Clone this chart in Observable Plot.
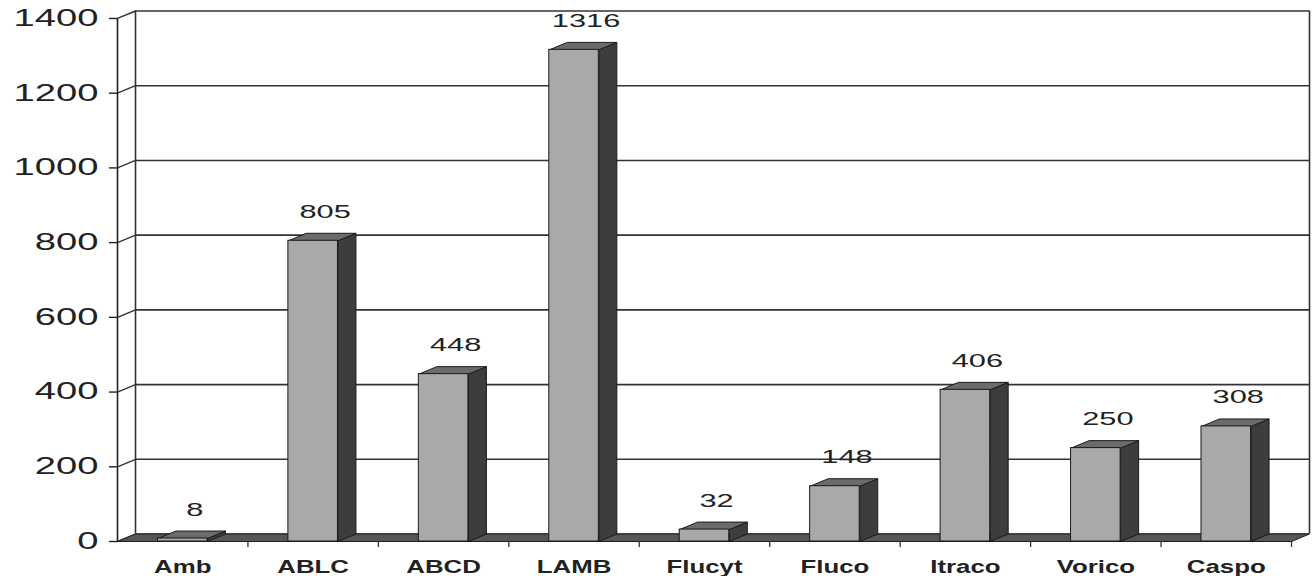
<!DOCTYPE html>
<html>
<head>
<meta charset="utf-8">
<script src="https://cdn.jsdelivr.net/npm/d3@7"></script>
<script src="https://cdn.jsdelivr.net/npm/@observablehq/plot@0.6"></script>
<style>
  html, body { margin: 0; padding: 0; background: #fff; }
  #chart svg { display: block; }
</style>
</head>
<body>
<div id="chart"></div>
<script>
// Antifungal agents and their counts
const categories = ["Amb", "ABLC", "ABCD", "LAMB", "Flucyt", "Fluco", "Itraco", "Vorico", "Caspo"];
const values = [8, 805, 448, 1316, 32, 148, 406, 250, 308];
const yTicks = [0, 200, 400, 600, 800, 1000, 1200, 1400];

// Pseudo-3D depth, expressed in data units of each axis
const DX = 0.138;   // horizontal depth (category units)
const DY = 20;      // vertical depth (value units)
const HALF = 0.19;  // half width of a column's front face
const X0 = -0.5, X1 = categories.length - 0.5;

// Closed polygon rows for Plot.line
function poly(id, pts) {
  return pts.concat([pts[0]]).map(([x, y]) => ({id, x, y}));
}

const sides = [], tops = [], fronts = [];
values.forEach((v, i) => {
  const l = i - HALF, r = i + HALF;
  sides.push(...poly("s" + i, [[r, 0], [r + DX, DY], [r + DX, v + DY], [r, v]]));
  tops.push(...poly("t" + i, [[l, v], [r, v], [r + DX, v + DY], [l + DX, v + DY]]));
  fronts.push({x1: l, x2: r, y1: 0, y2: v});
});
const floor = poly("floor", [[X0, 0], [X1, 0], [X1 + DX, DY], [X0 + DX, DY]]);
const boundaries = d3.range(1, categories.length + 1).map(k => X0 + k);

const ink = "#222";

const chart = Plot.plot({
  width: 1316,
  height: 576,
  marginLeft: 117,
  marginRight: 7,
  marginTop: 10.5,
  marginBottom: 35,
  x: {domain: [X0, X1 + DX], axis: null},
  y: {domain: [0, 1400 + DY], axis: null},
  style: {background: "white", fontFamily: "'Liberation Sans', Arial, sans-serif", color: ink},
  marks: [
    // back wall gridlines
    Plot.ruleY(yTicks, {y: d => d + DY, x1: X0 + DX, x2: X1 + DX, stroke: "#333", strokeWidth: 1.6}),
    // side wall connectors from the front axis to the back wall
    Plot.link(yTicks, {x1: X0, y1: d => d, x2: X0 + DX, y2: d => d + DY, stroke: "#333", strokeWidth: 1.4}),
    // back wall edges
    Plot.ruleX([X0 + DX, X1 + DX], {x: d => d, y1: DY, y2: 1400 + DY, stroke: "#333", strokeWidth: 1.6}),
    // floor
    Plot.line(floor, {x: "x", y: "y", z: "id", fill: "#575757", stroke: "#222", strokeWidth: 1}),
    // floor ticks between categories
    Plot.ruleX(boundaries, {x: d => d, y1: 0, y2: -16, stroke: "#333", strokeWidth: 1.3}),
    // front value axis
    Plot.ruleX([X0], {x: d => d, y1: 0, y2: 1400, stroke: "#222", strokeWidth: 1.6}),
    Plot.link(yTicks, {x1: X0 - 0.065, x2: X0, y1: d => d, y2: d => d, stroke: "#222", strokeWidth: 1.4}),
    // tick labels
    Plot.text(yTicks, {
      x: () => X0, y: d => d, text: d => String(d),
      textAnchor: "end", lineAnchor: "middle", dx: -19, fontSize: 23, fill: ink
    }),
    // columns
    Plot.line(sides, {x: "x", y: "y", z: "id", fill: "#3d3d3d", stroke: "#1a1a1a", strokeWidth: 1}),
    Plot.line(tops, {x: "x", y: "y", z: "id", fill: "#6b6b6b", stroke: "#1a1a1a", strokeWidth: 1}),
    Plot.rect(fronts, {x1: "x1", x2: "x2", y1: "y1", y2: "y2", fill: "#a9a9a9", stroke: "#1a1a1a", strokeWidth: 1}),
    // value labels
    Plot.text(values, {
      x: (d, i) => i + DX / 2, y: d => d, text: d => String(d),
      textAnchor: "middle", lineAnchor: "bottom", dx: 3, dy: -23, fontSize: 19, fill: ink
    }),
    // category labels
    Plot.text(categories, {
      x: (d, i) => i, y: () => 0, text: d => d,
      textAnchor: "middle", lineAnchor: "bottom", dy: 31, fontSize: 19, fontWeight: "bold", fill: ink
    })
  ]
});

// Widen lettering horizontally about each label's anchor point:
// the text layers are, in order, tick labels, value labels, category labels
const stretch = [1.66, 1.62, 1.36];
d3.select(chart).selectAll('g[aria-label="text"]').each(function (_, j) {
  const k = stretch[j] || 1;
  d3.select(this).selectAll("text").each(function () {
    const t = this.getAttribute("transform") || "";
    this.setAttribute("transform", `${t} scale(${k},1)`);
  });
});

document.getElementById("chart").appendChild(chart);
</script>
</body>
</html>
